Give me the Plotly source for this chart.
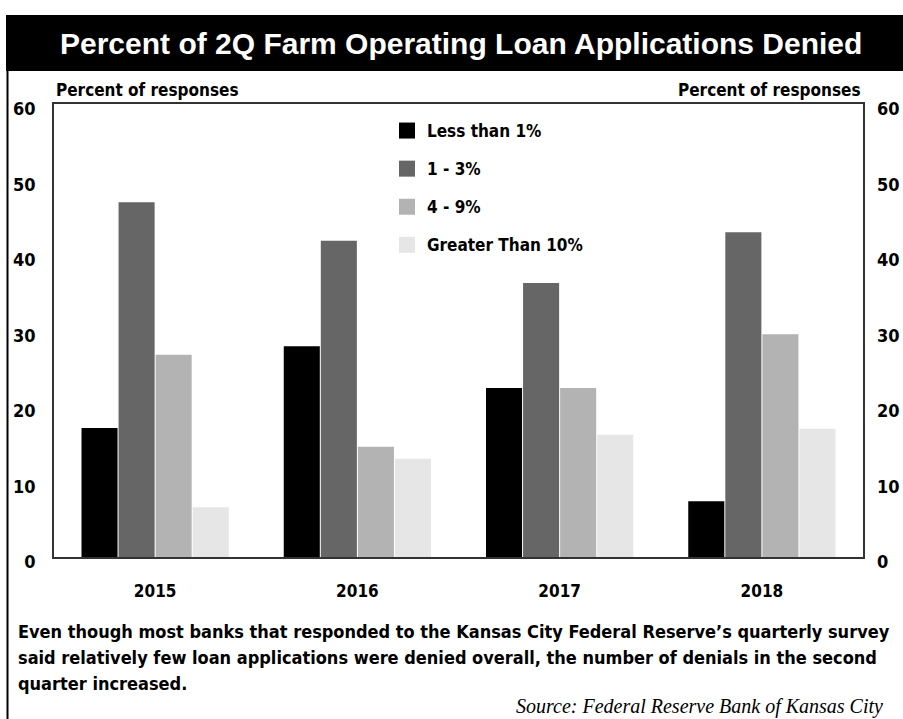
import plotly.graph_objects as go

# ---- data ----
years = ["2015", "2016", "2017", "2018"]
series_names = ["Less than 1%", "1 - 3%", "4 - 9%", "Greater Than 10%"]
less_than_1 = [17.1, 27.9, 22.4, 7.4]
one_to_3 = [47.0, 41.9, 36.3, 43.0]
four_to_9 = [26.8, 14.6, 22.4, 29.5]
greater_10 = [6.6, 13.0, 16.2, 17.0]
y_ticks = [0, 10, 20, 30, 40, 50, 60]

title_text = "Percent of 2Q Farm Operating Loan Applications Denied"
axis_label = "Percent of responses"
caption_lines = [
    "Even though most banks that responded to the Kansas City Federal Reserve\u2019s quarterly survey",
    "said relatively few loan applications were denied overall, the number of denials in the second",
    "quarter increased.",
]
source = "Source: Federal Reserve Bank of Kansas City"

colors = ["#000000", "#666666", "#b3b3b3", "#e6e6e6"]
values = [less_than_1, one_to_3, four_to_9, greater_10]

W, H = 903, 719
L, R, T, B = 54, 863, 104, 557
def px(x):
    return (x - L) / (R - L)
def py(y):
    return (B - y) / (B - T)

COND = "Liberation Sans Narrow, Arial Narrow, DejaVu Sans Condensed, sans-serif"

fig = go.Figure()
for name, vals, col in zip(series_names, values, colors):
    fig.add_trace(go.Bar(x=years, y=vals, name=name, marker=dict(color=col, line=dict(width=0)),
                         showlegend=False))
for i, (name, col) in enumerate(zip(series_names, colors)):
    fig.add_trace(go.Scatter(x=[None], y=[None], mode="markers", name=name, yaxis="y2",
                             legendgroup="g%d" % i,
                             marker=dict(symbol="square", size=18, color=col, line=dict(width=0))))

fig.update_layout(
    width=W, height=H,
    margin=dict(l=L, r=W - R, t=T, b=H - B, pad=0, autoexpand=False),
    paper_bgcolor="white", plot_bgcolor="white",
    barmode="group", bargap=0.267, bargroupgap=0.027,
    font=dict(family=COND, size=17, color="black", weight="bold"),
    showlegend=True,
    legend=dict(x=px(387), y=py(113), xanchor="left", yanchor="top",
                bgcolor="rgba(0,0,0,0)", borderwidth=0,
                font=dict(family=COND, size=17, color="black", weight="bold"),
                tracegroupgap=13, itemwidth=30),
    xaxis=dict(type="category", showline=True, linewidth=2, linecolor="#333333", mirror=True,
               ticks="", showgrid=False, zeroline=False, ticklabelstandoff=18, automargin=False,
               tickfont=dict(family=COND, size=17, color="black", weight="bold")),
    yaxis=dict(range=[0, 60], tickvals=y_ticks, showline=True, linewidth=1.5, linecolor="#333333",
               mirror=True, ticks="", showgrid=False, zeroline=False, ticklabelstandoff=13,
               ticklabelshift=5, automargin=False,
               tickfont=dict(family=COND, size=18, color="black", weight="bold")),
    yaxis2=dict(range=[0, 60], tickvals=y_ticks, overlaying="y", side="right", ticks="",
                showgrid=False, zeroline=False, showline=False, ticklabelstandoff=13,
                ticklabelshift=5, automargin=False,
                tickfont=dict(family=COND, size=18, color="black", weight="bold")),
)

# title bar
fig.add_shape(type="rect", xref="paper", yref="paper", x0=px(6), x1=px(903), y0=py(71), y1=py(15),
              fillcolor="black", line=dict(width=0), layer="below")
# left border line
fig.add_shape(type="line", xref="paper", yref="paper", x0=px(7.5), x1=px(7.5), y0=py(71), y1=py(719),
              line=dict(color="black", width=2))

fig.add_annotation(text=title_text, xref="paper", yref="paper", x=px(461), y=py(44),
                   xanchor="center", yanchor="middle", showarrow=False,
                   font=dict(family="Liberation Sans, Arial, sans-serif", size=30, color="white", weight="bold"))
fig.add_annotation(text=axis_label, xref="paper", yref="paper", x=px(54), y=py(90),
                   xanchor="left", yanchor="middle", showarrow=False,
                   font=dict(family=COND, size=17, color="black", weight="bold"))
fig.add_annotation(text=axis_label, xref="paper", yref="paper", x=px(863), y=py(90),
                   xanchor="right", yanchor="middle", showarrow=False,
                   font=dict(family=COND, size=17, color="black", weight="bold"))
for i, line in enumerate(caption_lines):
    fig.add_annotation(text=line, xref="paper", yref="paper", x=px(16), y=py(631 + 26 * i),
                       xanchor="left", yanchor="middle", align="left", showarrow=False,
                       font=dict(family=COND, size=18, color="black", weight="bold"))
fig.add_annotation(text=source, xref="paper", yref="paper", x=px(885), y=py(706),
                   xanchor="right", yanchor="middle", showarrow=False,
                   font=dict(family="Liberation Serif, serif", size=20, color="black",
                             style="italic", weight="normal"))

fig.write_html("out.html")
